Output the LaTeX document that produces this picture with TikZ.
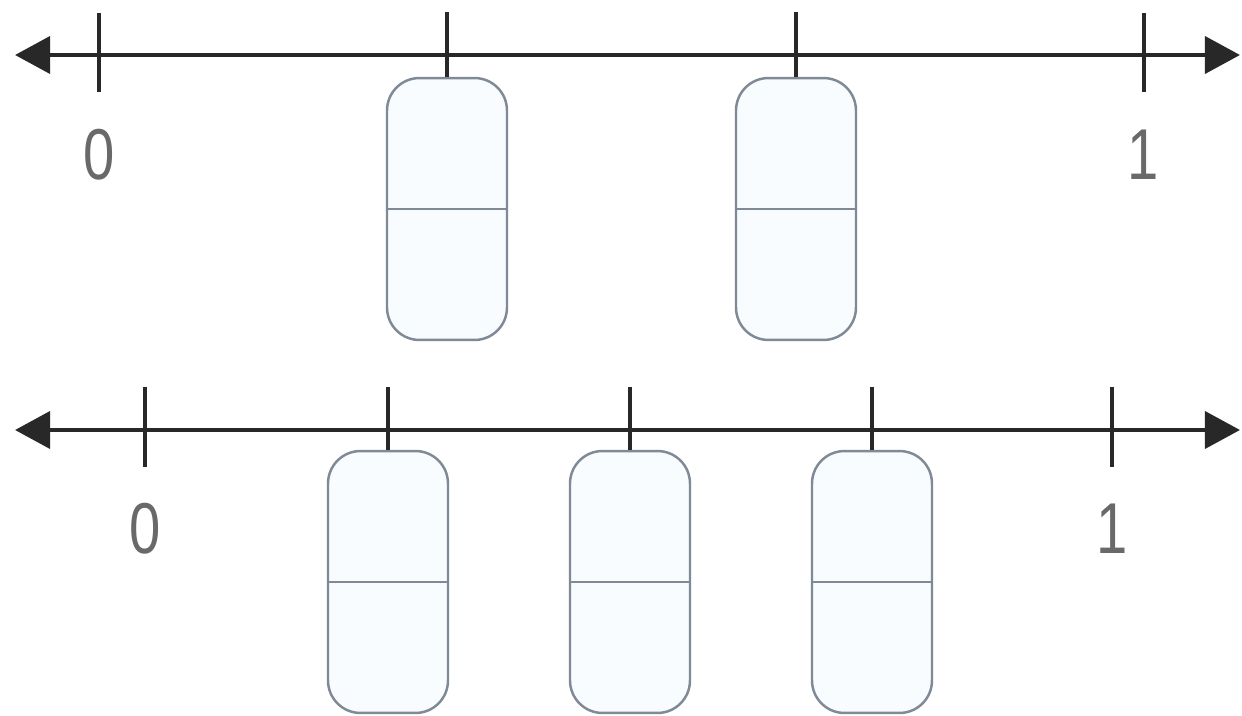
\documentclass[tikz,border=0pt]{standalone}
\usepackage{fontspec}
\setmainfont{Liberation Sans}
\usetikzlibrary{arrows.meta,positioning}
\definecolor{axis}{RGB}{40,40,40}
\definecolor{boxline}{RGB}{128,138,150}
\definecolor{boxfill}{RGB}{248,252,255}
\newcommand{\narrowdigit}[1]{\scalebox{0.78}[1]{#1}}

\begin{document}
\begin{tikzpicture}[x=0.02cm,y=-0.02cm]
\tikzstyle{axisline}=[draw=axis,line width=2.6pt,{Triangle[length=20pt,width=21pt]}-{Triangle[length=20pt,width=21pt]}]
\tikzstyle{notch}=[draw=axis,line width=1.8pt]
\tikzstyle{fracbox}=[draw=boxline,fill=boxfill,line width=1.4pt,rounded corners=0.65cm,minimum width=2.4cm,minimum height=5.24cm,inner sep=0pt]
\tikzstyle{divider}=[draw=boxline,line width=1.4pt]
\tikzstyle{numlabel}=[text=axis!70,font=\fontsize{41}{41}\selectfont,inner sep=0pt]
\useasboundingbox (0,0) rectangle (1242,716);

% halves
\coordinate (hL) at (15,55);
\coordinate (hR) at (1240,55);
\draw [axisline] (hL) -- (hR);
\coordinate (h0u) at (99,13);
\coordinate (h0d) at (99,92);
\coordinate (h1u) at (447,12);
\coordinate (h2u) at (796,12);
\coordinate (h3u) at (1144,13);
\coordinate (h3d) at (1144,92);
\node [fracbox] at (447,209) (hb1) {};
\node [fracbox] at (796,209) (hb2) {};
\draw [notch] (h0u) -- (h0d);
\draw [notch] (h1u) -- (hb1.north);
\draw [notch] (h2u) -- (hb2.north);
\draw [notch] (h3u) -- (h3d);
\draw [divider] (hb1.west) -- (hb1.east);
\draw [divider] (hb2.west) -- (hb2.east);
\node [numlabel] at (99,155) (hz) {\narrowdigit{0}};
\node [numlabel] at (1143,155) (ho) {\narrowdigit{1}};

% quarters
\coordinate (qL) at (15,430);
\coordinate (qR) at (1240,430);
\draw [axisline] (qL) -- (qR);
\coordinate (q0u) at (145,387);
\coordinate (q0d) at (145,467);
\coordinate (q1u) at (388,387);
\coordinate (q2u) at (630,387);
\coordinate (q3u) at (872,387);
\coordinate (q4u) at (1112,387);
\coordinate (q4d) at (1112,467);
\node [fracbox] at (388,582) (qb1) {};
\node [fracbox] at (630,582) (qb2) {};
\node [fracbox] at (872,582) (qb3) {};
\draw [notch] (q0u) -- (q0d);
\draw [notch] (q1u) -- (qb1.north);
\draw [notch] (q2u) -- (qb2.north);
\draw [notch] (q3u) -- (qb3.north);
\draw [notch] (q4u) -- (q4d);
\draw [divider] (qb1.west) -- (qb1.east);
\draw [divider] (qb2.west) -- (qb2.east);
\draw [divider] (qb3.west) -- (qb3.east);
\node [numlabel] at (145,529) (qz) {\narrowdigit{0}};
\node [numlabel] at (1112,529) (qo) {\narrowdigit{1}};
\end{tikzpicture}
\end{document}
